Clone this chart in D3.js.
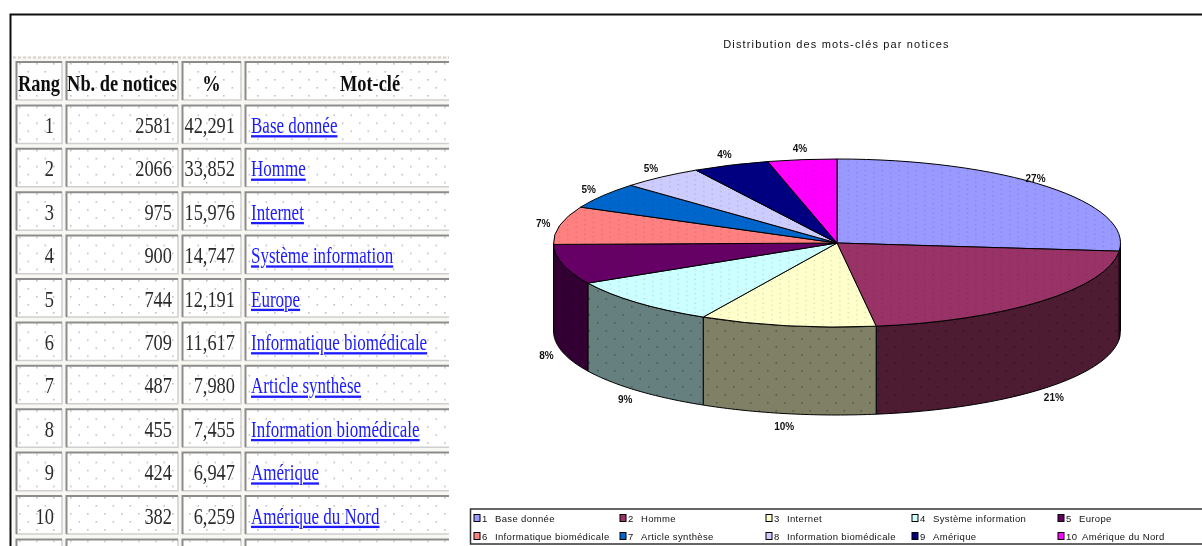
<!DOCTYPE html>
<html>
<head>
<meta charset="utf-8">
<script src="https://cdn.jsdelivr.net/npm/d3@7"></script>
<style>
  html, body { margin: 0; padding: 0; background: #fff; overflow: hidden; }
  svg { display: block; }
  .cell text { font-family: "Liberation Serif", serif; font-size: 23px; fill: #2b2b2b; }
  .cell text.head { font-weight: bold; fill: #111; }
  .cell text.link { fill: #1a1aff; text-decoration: underline; }
  .slice, .wall { stroke: #000; stroke-width: 1; vector-effect: non-scaling-stroke; }
  .pct, .title, .legend text { font-family: "Liberation Sans", Arial, sans-serif; fill: #111; }
</style>
</head>
<body>
<svg id="chart" width="1202" height="546"></svg>
<script>
// data
const ranks = [1, 2, 3, 4, 5, 6, 7, 8, 9, 10];
const counts = [2581, 2066, 975, 900, 744, 709, 487, 455, 424, 382];
const percents = [42.291, 33.852, 15.976, 14.747, 12.191, 11.617, 7.980, 7.455, 6.947, 6.259];
const keywords = ["Base donnée", "Homme", "Internet", "Système information", "Europe",
  "Informatique biomédicale", "Article synthèse", "Information biomédicale", "Amérique", "Amérique du Nord"];
const headers = ["Rang", "Nb. de notices", "%", "Mot-clé"];
const pieLabels = ["27%", "21%", "10%", "9%", "8%", "7%", "5%", "5%", "4%", "4%"];
const chartTitle = "Distribution des mots-clés par notices";

const topColors = ["#9999ff", "#993366", "#ffffcc", "#ccffff", "#660066", "#ff8080", "#0066cc", "#ccccff", "#000080", "#ff00ff"];
const wallColors = ["#4d4d80", "#4d1a33", "#808066", "#668080", "#330033", "#804040", "#003366", "#666680", "#000040", "#800080"];

const svg = d3.select("#chart");
const defs = svg.append("defs");

// the dither dots of the scan
function dots(id, color, opacity) {
  const p = defs.append("pattern").attr("id", id).attr("patternUnits", "userSpaceOnUse")
    .attr("width", 17).attr("height", 16);
  p.append("rect").attr("x", 2).attr("y", 2).attr("width", 1.6).attr("height", 1.6).attr("fill", color).attr("opacity", opacity);
  p.append("rect").attr("x", 10.5).attr("y", 10).attr("width", 1.6).attr("height", 1.6).attr("fill", color).attr("opacity", opacity);
}
dots("cellDots", "#777", 0.45);
dots("pieDots", "#000", 0.28);

defs.append("filter").attr("id", "soft").attr("x", 0).attr("y", 0).attr("width", 1).attr("height", 1)
  .attr("filterUnits", "objectBoundingBox")
  .append("feGaussianBlur").attr("stdDeviation", 0.55);
defs.append("clipPath").attr("id", "tableClip").append("rect")
  .attr("x", 13).attr("y", 56).attr("width", 436).attr("height", 490);

const root = svg.append("g").attr("filter", "url(#soft)");
root.append("rect").attr("width", 1202).attr("height", 546).attr("fill", "#fff");

// frame
root.append("path").attr("d", d3.line()([[1202, 14.5], [10.5, 14.5], [10.5, 546]]))
  .attr("fill", "none").attr("stroke", "#111").attr("stroke-width", 2);

// ---- table ----
const table = root.append("g").attr("clip-path", "url(#tableClip)");
table.append("rect").attr("x", 13).attr("y", 56).attr("width", 436).attr("height", 490)
  .attr("fill", "#f8f7f2");
table.append("line").attr("x1", 13).attr("x2", 449).attr("y1", 57.5).attr("y2", 57.5)
  .attr("stroke", "#d9cfcf").attr("stroke-width", 2).attr("stroke-dasharray", "3 2");

const colEdges = [[16, 62], [66, 178], [182, 241], [245, 470]];
const rowIndex = d3.range(12);
const y = d3.scaleBand().domain(rowIndex).range([61, 61 + 43.4 * 11.9]).paddingInner(0.1);
const comma = d3.formatLocale({ decimal: ",", thousands: "", grouping: [3], currency: ["", ""] }).format(".3f");

const rowText = i => i === 0 ? headers : i > 10 ? ["", "", "", ""] : [
  ranks[i - 1], counts[i - 1], comma(percents[i - 1]), keywords[i - 1]
];

const rows = table.selectAll("g.row").data(rowIndex).join("g").attr("class", "row")
  .attr("transform", d => `translate(0,${y(d)})`);

rows.each(function (r) {
  const cells = d3.select(this).selectAll("g.cell").data(rowText(r)).join("g").attr("class", "cell");
  const h = y.bandwidth();
  const w = (d, i) => colEdges[i][1] - colEdges[i][0];
  cells.append("rect").attr("x", (d, i) => colEdges[i][0]).attr("y", 0).attr("width", w).attr("height", h).attr("fill", "#fff");
  cells.append("rect").attr("x", (d, i) => colEdges[i][0]).attr("y", 0).attr("width", w).attr("height", h).attr("fill", "url(#cellDots)");
  // bevel, dark on top and left, lighter on the other sides
  cells.append("path").attr("fill", "none").attr("stroke", "#cfcfcf").attr("stroke-width", 1.5)
    .attr("d", (d, i) => d3.line()([[colEdges[i][1], 1], [colEdges[i][1], h], [colEdges[i][0], h]]));
  cells.append("path").attr("fill", "none").attr("stroke", "#8c8c8c").attr("stroke-width", 2)
    .attr("d", (d, i) => d3.line()([[colEdges[i][0] + 0.5, h], [colEdges[i][0] + 0.5, 1], [colEdges[i][1], 1]]));

  cells.append("text")
    .attr("class", (d, i) => r === 0 ? "head" : i === 3 ? "link" : null)
    .attr("text-anchor", (d, i) => r === 0 ? "middle" : i === 3 ? "start" : "end")
    .attr("transform", (d, i) => {
      const tx = r === 0 ? (i === 3 ? 370 : (colEdges[i][0] + colEdges[i][1]) / 2)
        : i === 3 ? 251 : colEdges[i][1] - (i === 0 ? 8 : 6);
      const sx = r > 0 && i === 3 ? 0.74 : 0.8;
      return `translate(${tx},${r === 0 ? 30 : 28.5}) scale(${sx},1)`;
    })
    .text(d => d);
});

// ---- pie, flat ellipse with a wall under the front half ----
const cx = 837, cy = 243, rx = 283.5, ry = 84, depth = 88;
const pie = d3.pie().sort(null).value(d => d)(counts);
const arc = d3.arc().innerRadius(0).outerRadius(rx);
const px = a => cx + rx * Math.sin(a);
const py = a => cy - ry * Math.cos(a);
const front = [Math.PI / 2, 3 * Math.PI / 2];

root.append("text").attr("class", "title").attr("x", 836.5).attr("y", 48)
  .attr("text-anchor", "middle").attr("font-size", 11).attr("letter-spacing", 1.15).text(chartTitle);

const chart = root.append("g");
const wallData = pie.map(s => ({
  index: s.index,
  a0: Math.max(s.startAngle, front[0]),
  a1: Math.min(s.endAngle, front[1])
})).filter(s => s.a1 > s.a0);

const wallPath = s => {
  const steps = d3.range(0, 41).map(k => s.a0 + (s.a1 - s.a0) * k / 40);
  const topEdge = steps.map(a => [px(a), py(a)]);
  const bottomEdge = steps.slice().reverse().map(a => [px(a), py(a) + depth]);
  return d3.line()(topEdge.concat(bottomEdge)) + "Z";
};
chart.selectAll("path.wall").data(wallData).join("path").attr("class", "wall")
  .attr("d", wallPath).attr("fill", s => wallColors[s.index]);
chart.selectAll("path.wallDot").data(wallData).join("path").attr("class", "wallDot")
  .attr("d", wallPath).attr("fill", "url(#pieDots)");

const topG = chart.append("g").attr("transform", `translate(${cx},${cy}) scale(1,${ry / rx})`);
topG.selectAll("path.slice").data(pie).join("path").attr("class", "slice")
  .attr("d", arc).attr("fill", (d, i) => topColors[i]);
topG.selectAll("path.dot").data(pie).join("path").attr("class", "dot")
  .attr("d", arc).attr("fill", "url(#pieDots)");

root.selectAll("text.pct").data(pie).join("text").attr("class", "pct")
  .attr("text-anchor", "middle").attr("font-size", 10).attr("font-weight", "bold")
  .attr("x", d => {
    const m = (d.startAngle + d.endAngle) / 2;
    return cx + 1.06 * rx * Math.sin(m) - (d.index === 0 ? 24 : 0);
  })
  .attr("y", d => {
    const m = (d.startAngle + d.endAngle) / 2;
    const isFront = m > front[0] && m < front[1];
    return cy - (ry + 12) * Math.cos(m) + (isFront ? depth : 0) + 4;
  })
  .text((d, i) => pieLabels[i]);

// ---- legend, two rows of five ----
const legendBox = root.append("g").attr("class", "legend");
legendBox.append("rect").attr("x", 470.5).attr("y", 509).attr("width", 740).attr("height", 35)
  .attr("fill", "#fff").attr("stroke", "#333").attr("stroke-width", 1.5);
const legendX = d3.scaleOrdinal().domain(d3.range(5)).range([474, 620, 766, 912, 1058]);
const legendY = d3.scalePoint().domain([0, 1]).range([518, 536]);
const entries = root.select(".legend").selectAll("g.entry").data(keywords).join("g").attr("class", "entry")
  .attr("transform", (d, i) => `translate(${legendX(i % 5)},${legendY(Math.floor(i / 5))})`);
entries.append("rect").attr("x", 0).attr("y", -3.5).attr("width", 6).attr("height", 7)
  .attr("fill", (d, i) => topColors[i]).attr("stroke", "#000").attr("stroke-width", 1);
entries.append("text").attr("x", 8).attr("y", 3.5).attr("font-size", 9.5).attr("letter-spacing", 0.4).text((d, i) => ranks[i]);
entries.append("text").attr("x", (d, i) => i === 9 ? 24 : 21).attr("y", 3.5).attr("font-size", 9.5).attr("letter-spacing", 0.35).text(d => d);
</script>
</body>
</html>
